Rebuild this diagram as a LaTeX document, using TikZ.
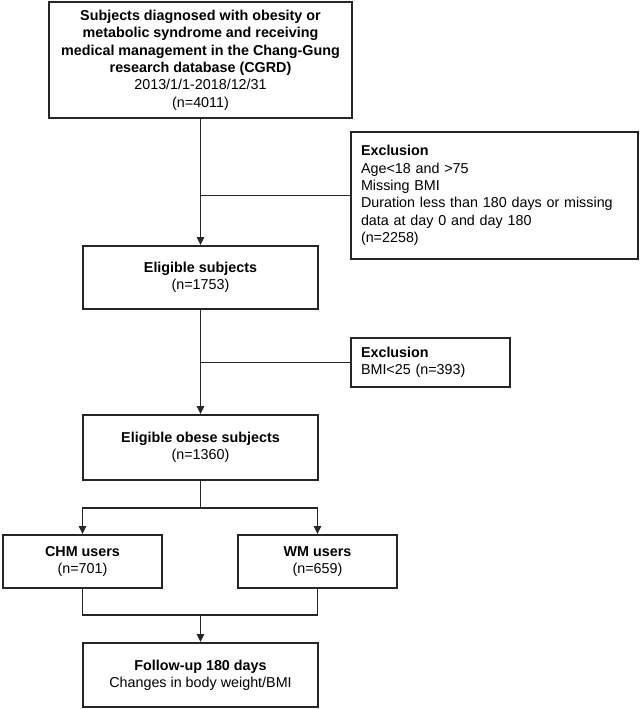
\documentclass[tikz,border=0pt]{standalone}
\usepackage{fontspec}
\setmainfont{Liberation Sans}
\usetikzlibrary{arrows.meta}
\begin{document}
\begin{tikzpicture}[x=0.75pt,y=-0.75pt,
  box/.style={draw=black!85,line width=1.4pt,align=center,inner sep=0pt,
    font=\fontsize{10.75}{13}\selectfont},
  exbox/.style={draw=black!85,line width=1.4pt,align=left,inner xsep=7.5pt,inner ysep=0pt,
    font=\fontsize{10.75}{13}\selectfont},
  conn/.style={line width=1.3pt,draw=black!85},
  arr/.style={conn,-{Triangle[length=6pt,width=5.5pt]}}]
\useasboundingbox (0,0) rectangle (641,709);
\node[box,minimum width=227.25pt,minimum height=87pt] (top) at (200.5,60)
  {\textbf{Subjects diagnosed with obesity or}\\\textbf{metabolic syndrome and receiving}\\\textbf{medical management in the Chang-Gung}\\\textbf{research database (CGRD)}\\2013/1/1-2018/12/31\\(n=4011)};
\node[exbox,text width=200.25pt,minimum height=95.25pt] (ex1) at (494.5,195.5)
  {\textbf{Exclusion}\\Age<18 and >75\\Missing BMI\\Duration less than 180 days or missing\\data at day 0 and day 180\\(n=2258)};
\node[box,minimum width=176.25pt,minimum height=47.25pt] (elig) at (200.5,277.5)
  {\textbf{Eligible subjects}\\(n=1753)};
\node[exbox,text width=104.25pt,minimum height=36.75pt] (ex2) at (430.5,362.5)
  {\textbf{Exclusion}\\BMI<25 (n=393)};
\node[box,minimum width=176.25pt,minimum height=48.75pt] (obese) at (200.5,447.5)
  {\textbf{Eligible obese subjects}\\(n=1360)};
\node[box,minimum width=119.25pt,minimum height=39.75pt] (chm) at (82.5,561.5)
  {\textbf{CHM users}\\(n=701)};
\node[box,minimum width=119.25pt,minimum height=39.75pt] (wm) at (317.5,561.5)
  {\textbf{WM users}\\(n=659)};
\node[box,minimum width=176.25pt,minimum height=48pt] (fu) at (200.5,675)
  {\textbf{Follow-up 180 days}\\Changes in body weight/BMI};
\coordinate (j1) at (top.south |- ex1.west);
\coordinate (j2) at (elig.south |- ex2.west);
\coordinate (s) at (200.5,508);
\coordinate (m) at (200.5,615);
\draw[arr] (top.south) -- (elig.north);
\draw[conn] (ex1.west) -- (j1);
\draw[arr] (elig.south) -- (obese.north);
\draw[conn] (ex2.west) -- (j2);
\draw[conn] (obese.south) -- (s);
\draw[arr] (s) -| (chm.north);
\draw[arr] (s) -| (wm.north);
\draw[conn] (chm.south) |- (m) -| (wm.south);
\draw[arr] (m) -- (fu.north);
\end{tikzpicture}
\end{document}
